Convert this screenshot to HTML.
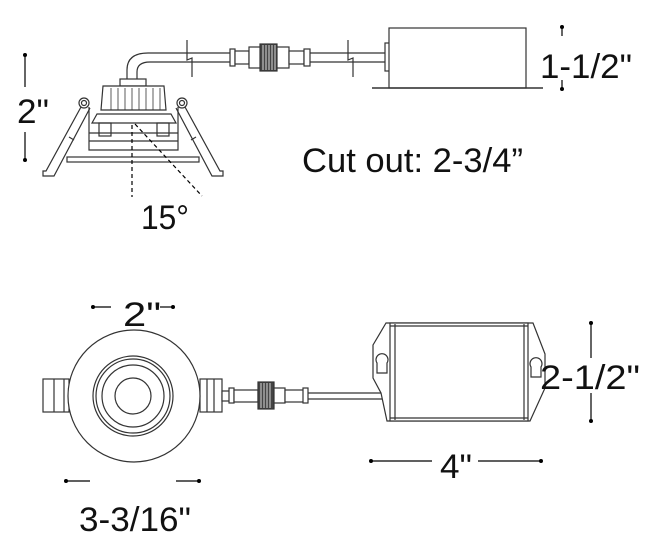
<!DOCTYPE html>
<html><head><meta charset="utf-8"><style>
html,body{margin:0;padding:0;background:#fff;}
svg{display:block;}
text{font-family:"Liberation Sans",sans-serif;fill:#111;}
</style></head><body>
<svg width="646" height="548" viewBox="0 0 646 548" xmlns="http://www.w3.org/2000/svg">
<g fill="none" stroke="#333" stroke-width="1.2">
<!-- TOP VIEW -->
<!-- dim 2" -->
<line x1="25" y1="55" x2="25" y2="87" stroke="#000"/>
<line x1="25" y1="132" x2="25" y2="160" stroke="#000"/>
<!-- cable -->
<path d="M127 80 V70 Q127 53 148 53 H389"/>
<path d="M137 80 V72 Q137 62 150 62 H389"/>
<!-- break marks -->
<path d="M187 40 V60 L192 58 V77"/>
<path d="M348 40 V60 L353 58 V77"/>
<!-- connector -->
<rect x="230" y="49" width="5" height="17" fill="#fff"/>
<rect x="235" y="51" width="14" height="13" fill="#fff"/>
<rect x="249" y="47" width="40" height="21" fill="#fff"/>
<rect x="260" y="44" width="17" height="27" fill="#444"/>
<g stroke="#fff" stroke-width="0.8"><line x1="263" y1="45" x2="263" y2="70"/><line x1="266" y1="45" x2="266" y2="70"/><line x1="269" y1="45" x2="269" y2="70"/><line x1="272" y1="45" x2="272" y2="70"/><line x1="275" y1="45" x2="275" y2="70"/></g>
<rect x="289" y="51" width="15" height="13" fill="#fff"/>
<rect x="304" y="49" width="6" height="17" fill="#fff"/>
<!-- driver side -->
<rect x="385" y="43" width="5" height="28" fill="#fff"/>
<rect x="389" y="28" width="137" height="60" fill="#fff"/>
<line x1="372" y1="88" x2="543" y2="88" stroke-width="1.6"/>
<line x1="562" y1="27" x2="562" y2="36" stroke="#000"/>
<line x1="562" y1="80" x2="562" y2="89" stroke="#000"/>
<!-- fixture -->
<rect x="120" y="79" width="26" height="7" fill="#fff"/>
<path d="M101 110 L103 86 H164 L166 110 Z" fill="#fff"/>
<g stroke-width="0.8"><line x1="111" y1="88" x2="111" y2="110"/><line x1="118" y1="88" x2="118" y2="110"/><line x1="125" y1="88" x2="125" y2="110"/><line x1="132" y1="88" x2="132" y2="110"/><line x1="139" y1="88" x2="139" y2="110"/><line x1="146" y1="88" x2="146" y2="110"/><line x1="153" y1="88" x2="153" y2="110"/><line x1="160" y1="88" x2="160" y2="110"/></g>
<path d="M92 123 L97 114 H171 L176 123 Z" fill="#fff"/>
<rect x="99" y="123" width="12" height="13"/>
<rect x="157" y="123" width="12" height="13"/>
<path d="M89 107 V150 H178 V107"/>
<line x1="89" y1="141" x2="178" y2="141"/>
<line x1="89" y1="133" x2="178" y2="133"/>
<rect x="67" y="157" width="132" height="5" fill="#fff"/>
<circle cx="84" cy="103" r="5"/><circle cx="84" cy="103" r="2.5"/>
<circle cx="182" cy="103" r="5"/><circle cx="182" cy="103" r="2.5"/>
<path d="M81 107 L46 171 H43 V176 H54 L90 108"/>
<path d="M185 107 L220 171 H223 V176 H212 L176 108"/>
<line x1="69" y1="137" x2="74" y2="140"/><line x1="196" y1="137" x2="191" y2="140"/>
<line x1="132" y1="125" x2="132" y2="197" stroke="#000" stroke-dasharray="4,3"/>
<line x1="135" y1="124" x2="202" y2="196" stroke="#000" stroke-dasharray="4,3"/>
<!-- BOTTOM VIEW -->
<line x1="93" y1="307" x2="111" y2="307" stroke="#000"/>
<line x1="160" y1="307" x2="173" y2="307" stroke="#000"/>
<rect x="43" y="379" width="26" height="33" fill="#fff"/>
<line x1="54" y1="379" x2="54" y2="412"/><line x1="64" y1="379" x2="64" y2="412"/>
<rect x="200" y="379" width="22" height="33" fill="#fff"/>
<line x1="207" y1="379" x2="207" y2="412"/><line x1="214" y1="379" x2="214" y2="412"/>
<circle cx="134" cy="396" r="66" fill="#fff"/>
<circle cx="133" cy="396" r="40"/>
<circle cx="133" cy="396" r="37"/>
<circle cx="133" cy="396" r="31"/>
<circle cx="133" cy="396" r="18"/>
<!-- bottom connector/cable -->
<line x1="300" y1="393" x2="382" y2="393"/>
<line x1="300" y1="399" x2="382" y2="399"/>
<rect x="222" y="391" width="10" height="10" fill="#fff"/>
<rect x="229" y="388" width="5" height="15" fill="#fff"/>
<rect x="234" y="390" width="24" height="12" fill="#fff"/>
<rect x="258" y="382" width="16" height="27" fill="#444"/>
<g stroke="#fff" stroke-width="0.8"><line x1="261" y1="383" x2="261" y2="408"/><line x1="264" y1="383" x2="264" y2="408"/><line x1="267" y1="383" x2="267" y2="408"/><line x1="270" y1="383" x2="270" y2="408"/></g>
<rect x="274" y="388" width="11" height="15" fill="#fff"/>
<rect x="285" y="390" width="22" height="12" fill="#fff"/>
<rect x="303" y="388" width="5" height="15" fill="#fff"/>
<!-- driver top -->
<path d="M386 323 L373 345 V378 L381 393 L387 421 H530 L545 388 V354 L533 323 Z" fill="#fff"/>
<rect x="390" y="323" width="138" height="98" fill="#fff"/>
<line x1="395" y1="324" x2="395" y2="420"/><line x1="524" y1="324" x2="524" y2="420"/>
<line x1="390" y1="326" x2="528" y2="326"/><line x1="390" y1="418" x2="528" y2="418"/>
<path d="M377 363 A6 6 0 1 1 387 363 V373 H377 Z"/>
<path d="M531 367 A6 6 0 1 1 541 367 V377 H531 Z"/>
<line x1="591" y1="323" x2="591" y2="358" stroke="#000"/>
<line x1="591" y1="393" x2="591" y2="421" stroke="#000"/>
<line x1="371" y1="461" x2="432" y2="461" stroke="#000"/>
<line x1="478" y1="461" x2="541" y2="461" stroke="#000"/>
<line x1="66" y1="481" x2="90" y2="481" stroke="#000"/>
<line x1="176" y1="481" x2="199" y2="481" stroke="#000"/>
</g>
<g fill="#000">
<circle cx="25" cy="55" r="2"/><circle cx="25" cy="160" r="2"/>
<circle cx="562" cy="27" r="2"/><circle cx="562" cy="89" r="2"/>
<circle cx="93" cy="307" r="2"/><circle cx="173" cy="307" r="2"/>
<circle cx="591" cy="323" r="2"/><circle cx="591" cy="421" r="2"/>
<circle cx="371" cy="461" r="2"/><circle cx="541" cy="461" r="2"/>
<circle cx="66" cy="481" r="2"/><circle cx="199" cy="481" r="2"/>
</g>
<text x="17" y="123" font-size="34" textLength="32" lengthAdjust="spacingAndGlyphs">2"</text>
<text x="540" y="78" font-size="34" textLength="92" lengthAdjust="spacingAndGlyphs">1-1/2"</text>
<text x="302" y="172" font-size="34" textLength="221" lengthAdjust="spacingAndGlyphs">Cut out: 2-3/4”</text>
<text x="141" y="229" font-size="34" textLength="48" lengthAdjust="spacingAndGlyphs">15°</text>
<text x="123" y="326" font-size="34" textLength="38" lengthAdjust="spacingAndGlyphs">2"</text>
<text x="540" y="389" font-size="34" textLength="100" lengthAdjust="spacingAndGlyphs">2-1/2"</text>
<text x="440" y="478" font-size="34" textLength="32" lengthAdjust="spacingAndGlyphs">4"</text>
<text x="79" y="531" font-size="34" textLength="112" lengthAdjust="spacingAndGlyphs">3-3/16"</text>
</svg>
</body></html>
